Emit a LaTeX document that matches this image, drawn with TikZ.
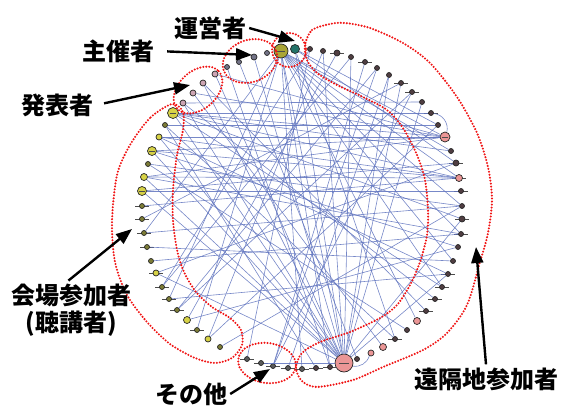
\documentclass[tikz,border=0pt]{standalone}
\usepackage{fontspec}
\newfontfamily\jpfont{Noto Sans CJK JP}
\usetikzlibrary{arrows.meta}

\definecolor{staffYellow}{RGB}{170,165,55}
\definecolor{staffTeal}{RGB}{35,115,105}
\definecolor{hostGray}{RGB}{115,115,135}
\definecolor{presPink}{RGB}{205,165,180}
\definecolor{hallYellow}{RGB}{215,210,70}
\definecolor{hallDark}{RGB}{125,125,55}
\definecolor{remoteDark}{RGB}{80,62,66}
\definecolor{remotePink}{RGB}{235,150,150}
\definecolor{otherDark}{RGB}{90,90,90}
\definecolor{linkBlue}{RGB}{95,115,190}
\definecolor{groupRed}{RGB}{240,20,20}

\tikzset{
    vtx/.style={
        ,   circle
        ,   inner sep=0pt
        ,   minimum size=#1
        ,   line width=0.7pt
        ,   draw=black!85
    },
    link/.style={
        ,   draw=linkBlue
        ,   line width=0.6pt
        ,   opacity=0.85
    },
    tickmark/.style={
        ,   draw=black!70
        ,   line width=0.5pt
    },
    groupLine/.style={
        ,   draw=groupRed
        ,   line width=2.3pt
        ,   dash pattern=on 0pt off 3pt
        ,   line cap=round
    },
    role/.style={
        ,   font=\jpfont\bfseries\fontsize{24}{27}\selectfont
        ,   inner sep=3pt
        ,   align=center
    },
    pointer/.style={
        ,   line width=2.4pt
        ,   -{Triangle[length=16pt,width=12pt]}
    }
}

\begin{document}
\begin{tikzpicture}[x=1pt, y=-1pt]
\useasboundingbox (0,0) rectangle (564,407);

% participants on the ring: index/x/y/size/colour/tick
\foreach \i/\x/\y/\s/\c/\t in {
  1/281/51/14/staffYellow/2, 2/295/49/9/staffTeal/0,
  3/310/49/5/remoteDark/0, 4/323/51/5/remoteDark/0, 5/337/53/6/remoteDark/1,
  6/351/57/5/remoteDark/0, 7/365/62/5/remoteDark/1, 8/377/68/5/remoteDark/0,
  9/389/75/5/remoteDark/0, 10/401/83/5/remoteDark/1, 11/412/92/5/remoteDark/1,
  12/422/102/5/remoteDark/0, 13/431/113/5/remoteDark/1, 14/438/125/5/remoteDark/0,
  15/445/137/10/remotePink/2, 16/451/151/5/remoteDark/0, 17/456/163/6/remoteDark/1,
  18/459/178/7/remotePink/1, 19/461/191/5/remoteDark/1, 20/462/206/5/remoteDark/0,
  21/462/219/6/remoteDark/1, 22/461/234/5/remoteDark/1, 23/458/247/5/remoteDark/0,
  24/453/261/5/remoteDark/0, 25/448/274/5/remoteDark/1, 26/442/287/5/remoteDark/1,
  27/435/299/5/remoteDark/1, 28/426/311/5/remoteDark/1, 29/417/321/7/remotePink/0,
  30/407/330/5/remoteDark/0, 31/395/339/5/remoteDark/1, 32/383/347/7/remotePink/0,
  33/371/353/6/remotePink/0, 34/357/359/5/remoteDark/0, 35/344/363/18/remotePink/2,
  36/330/367/5/remoteDark/1, 37/316/368/5/remoteDark/1,
  38/302/369/5/otherDark/1, 39/288/368/5/otherDark/1, 40/273/366/5/otherDark/1,
  41/261/363/5/otherDark/1, 42/247/359/5/otherDark/1,
  43/220/347/5/hallDark/0, 44/208/339/6/hallYellow/0, 45/197/330/5/hallDark/1,
  46/187/320/7/hallYellow/0, 47/177/310/5/hallDark/1, 48/169/299/5/hallDark/1,
  49/162/287/5/hallDark/1, 50/156/273/6/hallYellow/1, 51/151/261/5/hallDark/0,
  52/147/247/5/hallDark/1, 53/144/233/5/hallDark/1, 54/142/219/5/hallDark/1,
  55/142/206/5/hallDark/1, 56/142/191/9/hallYellow/2, 57/144/177/7/hallYellow/0,
  58/148/164/5/hallDark/0, 59/152/151/9/hallYellow/2, 60/159/137/6/hallYellow/0,
  61/165/125/5/hallDark/0, 62/173/113/11/hallYellow/2,
  63/183/103/6/presPink/0, 64/193/93/6/presPink/0, 65/203/83/6/presPink/0,
  66/215/74/6/presPink/0,
  67/227/67/5/hostGray/0, 68/239/62/5/hostGray/0, 69/254/57/6/hostGray/0,
  70/267/53/5/hostGray/0}{
  \ifnum\t=1 \draw[tickmark] (\x-7,\y) -- (\x+7,\y); \fi
  \node[vtx=\s, fill=\c] (n\i) at (\x,\y) {};
  \ifnum\t=2 \draw[tickmark, line width=1pt] (\x-0.3*\s,\y) -- (\x+0.3*\s,\y); \fi
}

% communication links
\foreach \a/\b in {1/15,1/16,1/18,1/20,1/22,1/24,1/26,1/29,1/35,1/36,1/38,1/45,1/48,1/53,
  2/14,2/17,2/31,2/35,3/42,4/44,5/46,6/49,7/40,8/47,9/35,10/54,12/63,13/62,14/61,
  15/62,15/59,15/60,15/57,15/64,15/66,16/62,17/56,17/50,18/62,18/59,18/57,18/60,18/55,
  19/56,20/58,20/53,21/62,22/57,22/51,23/59,24/52,25/60,25/48,26/62,27/63,28/65,
  30/58,31/61,32/64,34/68,35/62,35/59,35/56,35/60,35/66,35/69,35/10,35/12,35/21,
  35/25,35/63,35/65,35/57,35/4,35/6,35/50,35/41,36/67,37/61,39/9,40/8,40/11,
  43/20,44/14,46/23,47/11,49/3}{
  \draw[link] (n\a) -- (n\b);
}
\draw[link] (n13) to[bend left=50] (n15);
\draw[link] (n35) to[bend right=40] (n33);

% groups
\draw[groupLine] (289,50) circle[radius=17]; % staff
\draw[groupLine, rotate around={20:(250,61)}] (250,61) ellipse[x radius=28, y radius=21];
\draw[groupLine, rotate around={42:(198,90)}] (198,90) ellipse[x radius=28, y radius=19];
\draw[groupLine, rotate around={-8:(267,363)}] (267,363) ellipse[x radius=29, y radius=20];
\draw[groupLine] plot[smooth cycle] coordinates {
  (172,104) (150,118) (130,145) (117,175) (112,222) (115,262) (127,295)
  (147,322) (170,344) (195,358) (215,363) (232,358) (242,345) (241,330)
  (230,318) (212,307) (196,292) (184,272) (177,250) (173,220) (173,190)
  (177,155) (183,130) (183,112)}; % hall
\draw[groupLine] plot[smooth cycle] coordinates {
  (305,45) (312,30) (330,24) (345,23) (370,28) (403,43) (430,63) (457,97)
  (477,133) (488,167) (492,200) (488,233) (480,262) (467,305) (447,333)
  (423,350) (383,367) (353,380) (317,387) (302,381) (296,368) (302,353)
  (320,342) (350,332) (380,318) (397,305) (410,285) (420,262) (427,235)
  (428,210) (425,180) (417,155) (403,128) (387,110) (363,97) (337,85)
  (317,73) (307,60)}; % remote

% labels
\node[role] (tStaff) at (210,28) {運営者};
\node[role] (tHost) at (118,51) {主催者};
\node[role] (tPres) at (57,105) {発表者};
\node[role] (tHall) at (71,310) {会場参加者\\(聴講者)};
\node[role] (tOther) at (191,394) {その他};
\node[role] (tRemote) at (486,379) {遠隔地参加者};

\coordinate (aStaff) at (295,41);
\coordinate (aHost) at (252,55);
\coordinate (aPres) at (190,85);
\coordinate (aHall) at (132,229);
\coordinate (aOther) at (270,369);
\coordinate (aRemote) at (476,247);

\draw[pointer] (tStaff.east) -- (aStaff);
\draw[pointer, shorten <=10pt] (tHost.east) -- (aHost);
\draw[pointer, shorten <=8pt] (tPres.east) -- (aPres);
\draw[pointer] (tHall.95) -- (aHall);
\draw[pointer] (tOther.east) -- (aOther);
\draw[pointer] (tRemote.north) -- (aRemote);
\end{tikzpicture}
\end{document}
